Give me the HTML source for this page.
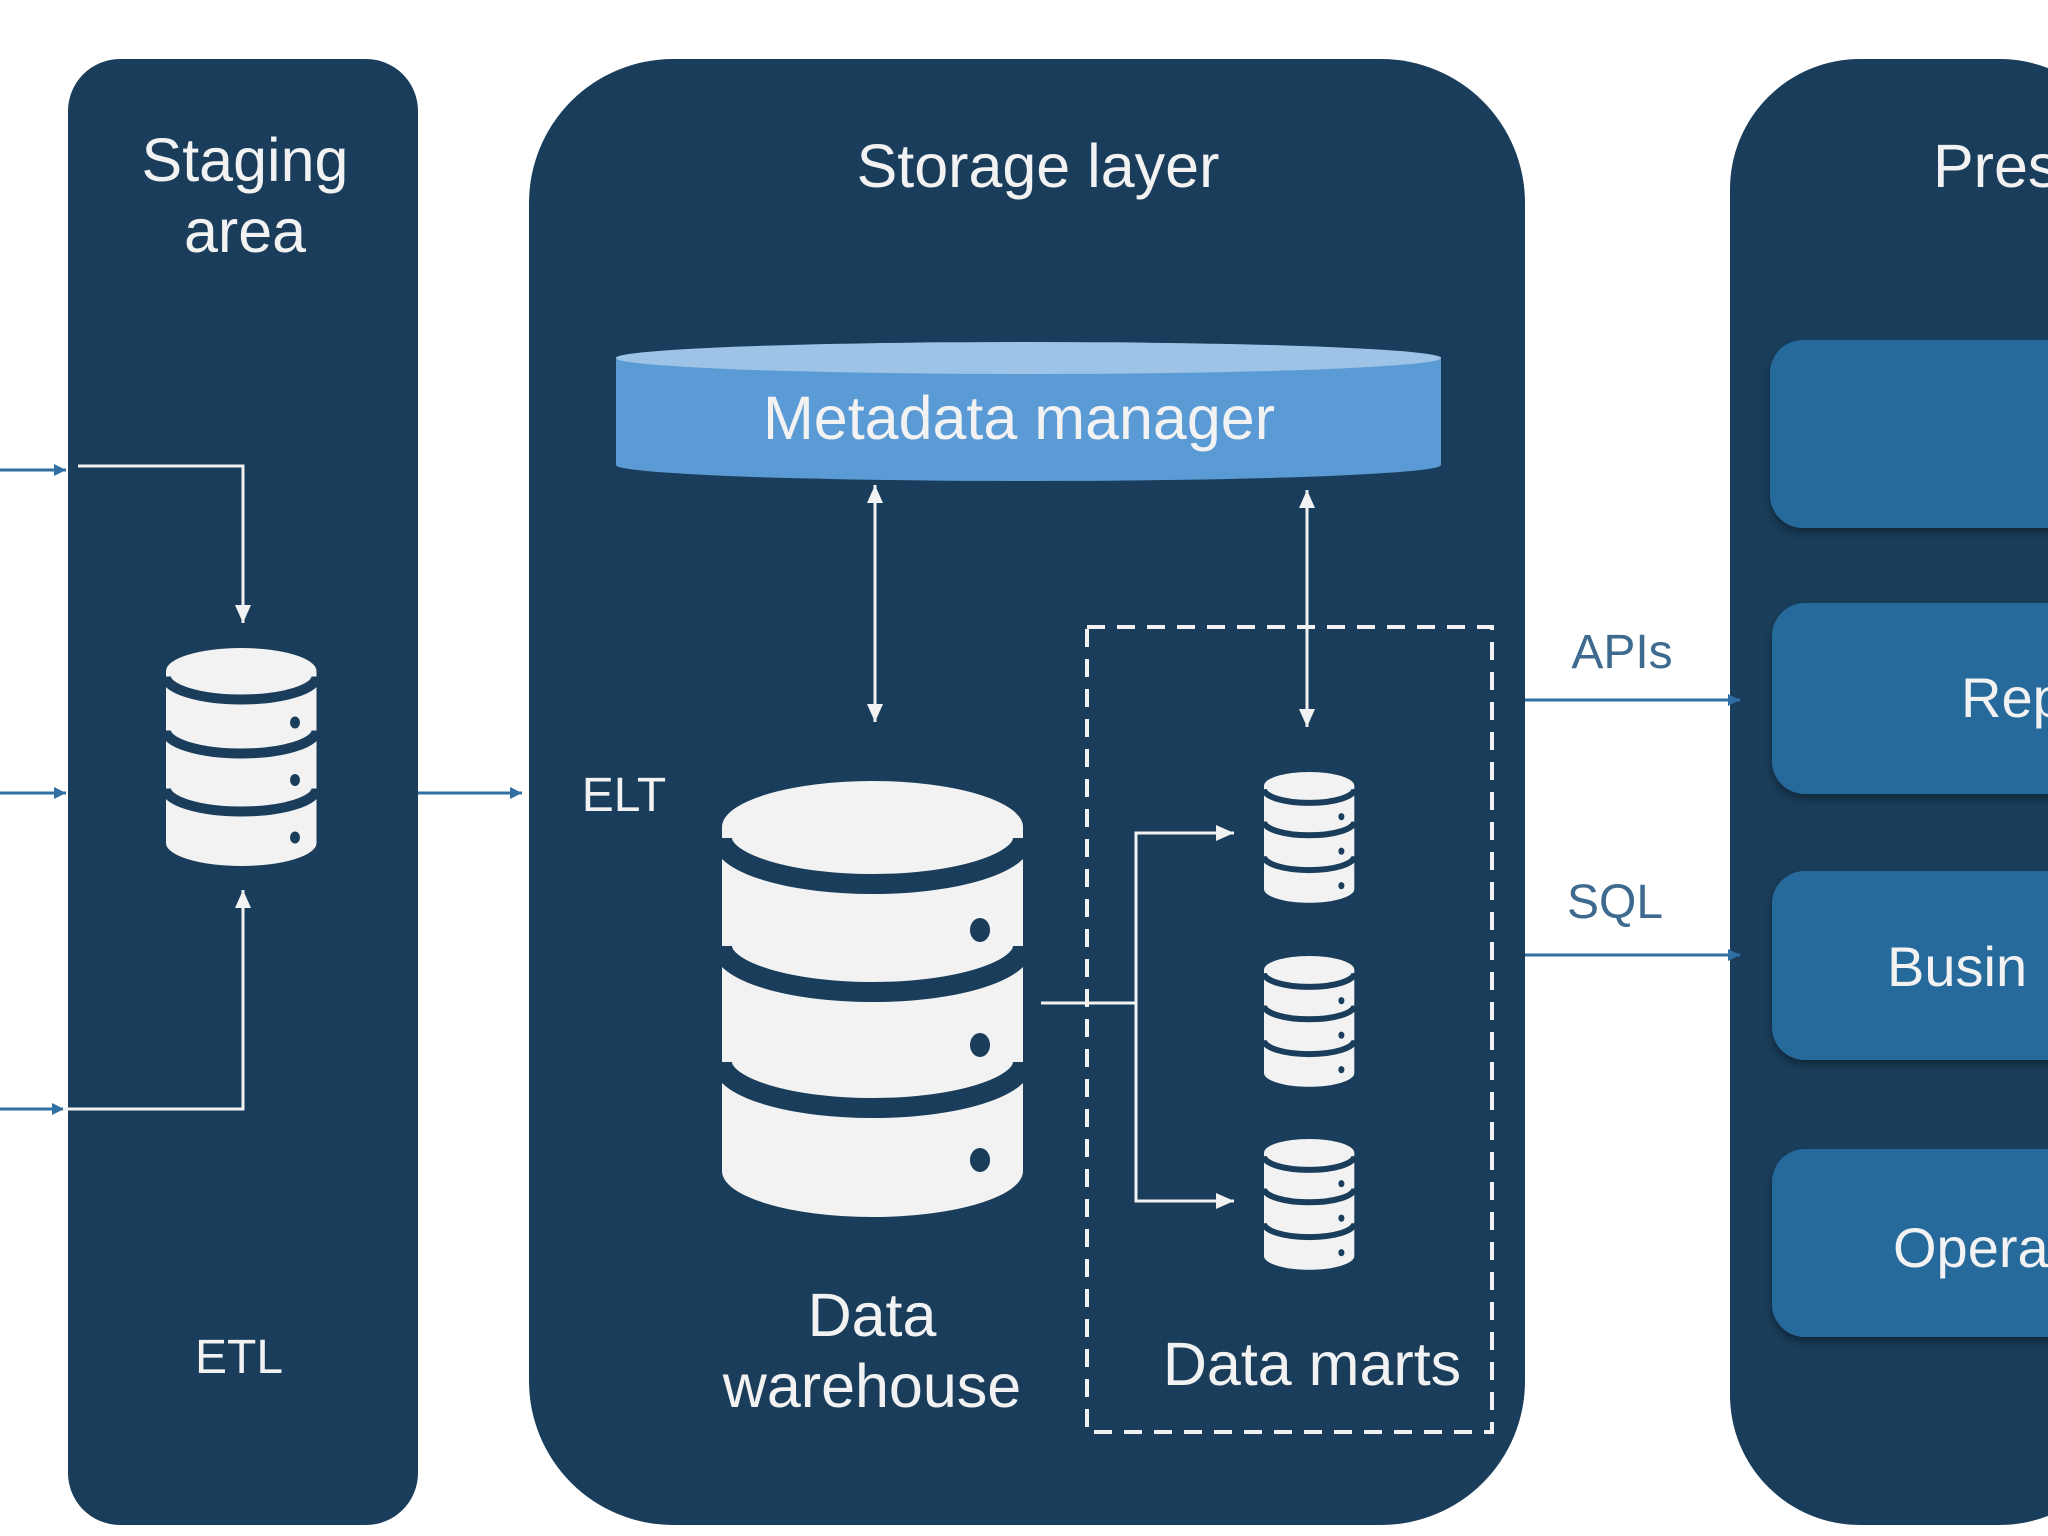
<!DOCTYPE html>
<html><head><meta charset="utf-8"><style>
html,body{margin:0;padding:0;background:#fff;}
svg{display:block;}
text{font-family:"Liberation Sans",sans-serif;}
</style></head><body>
<svg width="2048" height="1536" viewBox="0 0 2048 1536" xmlns="http://www.w3.org/2000/svg">
<defs>
<g id="db">
  <rect x="0" y="46" width="301" height="344" fill="#f2f2f2"/>
  <ellipse cx="150.5" cy="390" rx="150.5" ry="46" fill="#f2f2f2"/>
  <ellipse cx="150.5" cy="46" rx="150.5" ry="46" fill="#f2f2f2"/>
  <path d="M0,57 A150.5,46 0 0 0 301,57" fill="none" stroke="#193d5a" stroke-width="20"/>
  <path d="M0,165 A150.5,46 0 0 0 301,165" fill="none" stroke="#193d5a" stroke-width="20"/>
  <path d="M0,281 A150.5,46 0 0 0 301,281" fill="none" stroke="#193d5a" stroke-width="20"/>
  <ellipse cx="258" cy="149" rx="10" ry="12" fill="#193d5a"/>
  <ellipse cx="258" cy="264" rx="10" ry="12" fill="#193d5a"/>
  <ellipse cx="258" cy="379" rx="10" ry="12" fill="#193d5a"/>
</g>
<marker id="ab" markerWidth="14" markerHeight="14" refX="12" refY="6" orient="auto" markerUnits="userSpaceOnUse"><path d="M0,0 L12,6 L0,12 z" fill="#2f6fa3"/></marker>
<marker id="aw" markerWidth="20" markerHeight="20" refX="18" refY="8" orient="auto-start-reverse" markerUnits="userSpaceOnUse"><path d="M0,0 L18,8 L0,16 z" fill="#f2f2f2"/></marker>
<filter id="sh" x="-10%" y="-10%" width="120%" height="130%"><feDropShadow dx="0" dy="5" stdDeviation="4" flood-color="#000" flood-opacity="0.35"/></filter>
</defs>

<rect x="68" y="59" width="350" height="1466" rx="52" fill="#193d5a"/>
<rect x="529" y="59" width="996" height="1466" rx="144" fill="#193d5a"/>
<rect x="1730" y="59" width="400" height="1466" rx="130" fill="#193d5a"/>

<text x="245" y="181" font-size="61" fill="#f2f2f2" text-anchor="middle">Staging</text>
<text x="245" y="252" font-size="61" fill="#f2f2f2" text-anchor="middle">area</text>
<text x="1038" y="187" font-size="61" fill="#f2f2f2" text-anchor="middle">Storage layer</text>
<text x="1933" y="187" font-size="61" fill="#f2f2f2">Pres</text>

<g stroke="#2f6fa3" stroke-width="3" fill="none">
<line x1="0" y1="470" x2="66" y2="470" marker-end="url(#ab)"/>
<line x1="0" y1="793" x2="66" y2="793" marker-end="url(#ab)"/>
<line x1="0" y1="1109" x2="64" y2="1109" marker-end="url(#ab)"/>
<line x1="418" y1="793" x2="522" y2="793" marker-end="url(#ab)"/>
<line x1="1525" y1="700" x2="1740" y2="700" marker-end="url(#ab)"/>
<line x1="1525" y1="955" x2="1740" y2="955" marker-end="url(#ab)"/>
</g>
<g stroke="#f2f2f2" stroke-width="3" fill="none">
<polyline points="78,466 243,466 243,623" marker-end="url(#aw)"/>
<polyline points="63,1109 243,1109 243,890" marker-end="url(#aw)"/>
<line x1="875" y1="485" x2="875" y2="722" marker-start="url(#aw)" marker-end="url(#aw)"/>
<line x1="1307" y1="490" x2="1307" y2="727" marker-start="url(#aw)" marker-end="url(#aw)"/>
<line x1="1041" y1="1003" x2="1136" y2="1003"/>
<polyline points="1234,833 1136,833 1136,1201 1234,1201" marker-start="url(#aw)" marker-end="url(#aw)"/>
</g>

<rect x="1087" y="627" width="405" height="805" fill="none" stroke="#f2f2f2" stroke-width="4" stroke-dasharray="18,12"/>

<rect x="616" y="358" width="825" height="107" fill="#5b9bd5"/>
<ellipse cx="1028.5" cy="465" rx="412.5" ry="16" fill="#5b9bd5"/>
<ellipse cx="1028.5" cy="358" rx="412.5" ry="16" fill="#9dc3e6"/>
<text x="1019" y="439" font-size="61" fill="#f2f2f2" text-anchor="middle">Metadata manager</text>

<use href="#db" transform="translate(722,781)"/>
<use href="#db" transform="translate(166,648) scale(0.5)"/>
<use href="#db" transform="translate(1264,772) scale(0.3)"/>
<use href="#db" transform="translate(1264,956) scale(0.3)"/>
<use href="#db" transform="translate(1264,1139) scale(0.3)"/>

<text x="624" y="811" font-size="48" fill="#f2f2f2" text-anchor="middle">ELT</text>
<text x="239" y="1373" font-size="48" fill="#f2f2f2" text-anchor="middle">ETL</text>
<text x="872" y="1336" font-size="61" fill="#f2f2f2" text-anchor="middle">Data</text>
<text x="872" y="1407" font-size="61" fill="#f2f2f2" text-anchor="middle">warehouse</text>
<text x="1312" y="1385" font-size="61" fill="#f2f2f2" text-anchor="middle">Data marts</text>
<text x="1622" y="668" font-size="48" fill="#3d6a8e" text-anchor="middle">APIs</text>
<text x="1615" y="918" font-size="48" fill="#3d6a8e" text-anchor="middle">SQL</text>

<g fill="#286a9c" filter="url(#sh)">
<rect x="1770" y="340" width="330" height="188" rx="33"/>
<rect x="1772" y="603" width="330" height="191" rx="33"/>
<rect x="1772" y="871" width="330" height="189" rx="33"/>
<rect x="1772" y="1149" width="330" height="188" rx="33"/>
</g>
<text x="1961" y="717" font-size="56" fill="#f2f2f2">Rep</text>
<text x="1887" y="986" font-size="56" fill="#f2f2f2">Busin</text>
<text x="1893" y="1267" font-size="56" fill="#f2f2f2">Opera</text>
</svg>
</body></html>
